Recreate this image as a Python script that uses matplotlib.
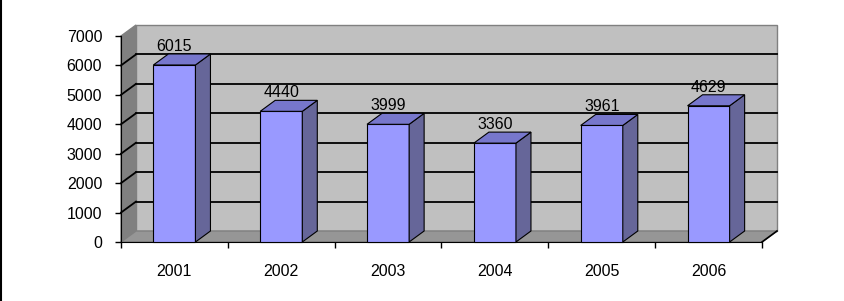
import matplotlib.pyplot as plt
from matplotlib.patches import Polygon
from matplotlib.lines import Line2D
from matplotlib.ticker import FixedLocator, NullFormatter

plt.rcParams['font.family'] = ['Liberation Sans', 'DejaVu Sans']

years = ["2001", "2002", "2003", "2004", "2005", "2006"]
values = [6015, 4440, 3999, 3360, 3961, 4629]
y_ticks = [0, 1000, 2000, 3000, 4000, 5000, 6000, 7000]

W, H = 845, 301
fig = plt.figure(figsize=(W / 100, H / 100), dpi=100)
fig.patch.set_facecolor("white")

# front plane of the plot area, in pixels
x_left, x_right, y_bottom, y_top = 121, 762, 242, 36
ax = fig.add_axes([x_left / W, 1 - y_bottom / H, (x_right - x_left) / W, (y_bottom - y_top) / H])
ax.set_xlim(-0.5, len(years) - 0.5)
ax.set_ylim(0, 7000)
ax.patch.set_visible(False)

# depth offset of the fake 3d box, converted to data units
px_per_unit = (y_bottom - y_top) / 7000
dx = 15 / ((x_right - x_left) / len(years))
dy = 11 / px_per_unit
x0, x1 = -0.5, len(years) - 0.5
ymax = 7000
fs = 11.5


def poly(pts, fc, ec="black", lw=0.8, z=1):
    p = Polygon(pts, closed=True, facecolor=fc, edgecolor=ec, linewidth=lw, zorder=z, clip_on=False)
    ax.add_patch(p)


def line(xs, ys, c="black", lw=1.2, z=2):
    ax.add_line(Line2D(xs, ys, color=c, linewidth=lw, zorder=z, clip_on=False))


# walls and floor
poly([(x0 + dx, dy), (x1 + dx, dy), (x1 + dx, ymax + dy), (x0 + dx, ymax + dy)], "#c0c0c0", ec="#808080", lw=1.0, z=1)
poly([(x0, 0), (x0 + dx, dy), (x0 + dx, ymax + dy), (x0, ymax)], "#808080", ec="#808080", lw=1.0, z=1)
poly([(x0, 0), (x1, 0), (x1 + dx, dy), (x0 + dx, dy)], "#969696", ec="#808080", lw=1.0, z=1)
line([x1, x1 + dx], [0, dy], lw=1.2, z=2)

# gridlines on back and side wall
for v in y_ticks[1:-1]:
    line([x0 + dx, x1 + dx], [v + dy, v + dy], lw=1.3)
    line([x0, x0 + dx], [v, v + dy], lw=1.3)

# bars
half = 0.197
for i, v in enumerate(values):
    a, b = i - half, i + half
    poly([(a, 0), (b, 0), (b, v), (a, v)], "#9999ff", z=5)
    poly([(b, 0), (b + dx, dy), (b + dx, v + dy), (b, v)], "#666699", z=5)
    poly([(a, v), (b, v), (b + dx, v + dy), (a + dx, v + dy)], "#7777cc", z=5)
    ax.text(i, v + dy + 3 / px_per_unit, str(v), ha="center", va="baseline", fontsize=fs, zorder=6)

# axes
for s in ["top", "right"]:
    ax.spines[s].set_visible(False)
ax.spines["left"].set_color("black")
ax.spines["bottom"].set_color("black")
ax.spines["left"].set_zorder(3)
ax.spines["bottom"].set_zorder(3)

ax.set_yticks(y_ticks)
ax.tick_params(axis="y", direction="out", length=4, width=1, pad=9.5, labelsize=fs)

ax.set_xticks(range(len(years)))
ax.set_xticklabels(years)
ax.xaxis.set_minor_locator(FixedLocator([i - 0.5 for i in range(len(years) + 1)]))
ax.xaxis.set_minor_formatter(NullFormatter())
ax.tick_params(axis="x", which="major", length=0, pad=16, labelsize=fs)
ax.tick_params(axis="x", which="minor", direction="out", length=4, width=1)

# thin frame line on the left edge of the picture
fig.add_artist(Line2D([0.001, 0.001], [0, 1], color="black", linewidth=1.5, transform=fig.transFigure))

fig.savefig("out.png", dpi=100)
